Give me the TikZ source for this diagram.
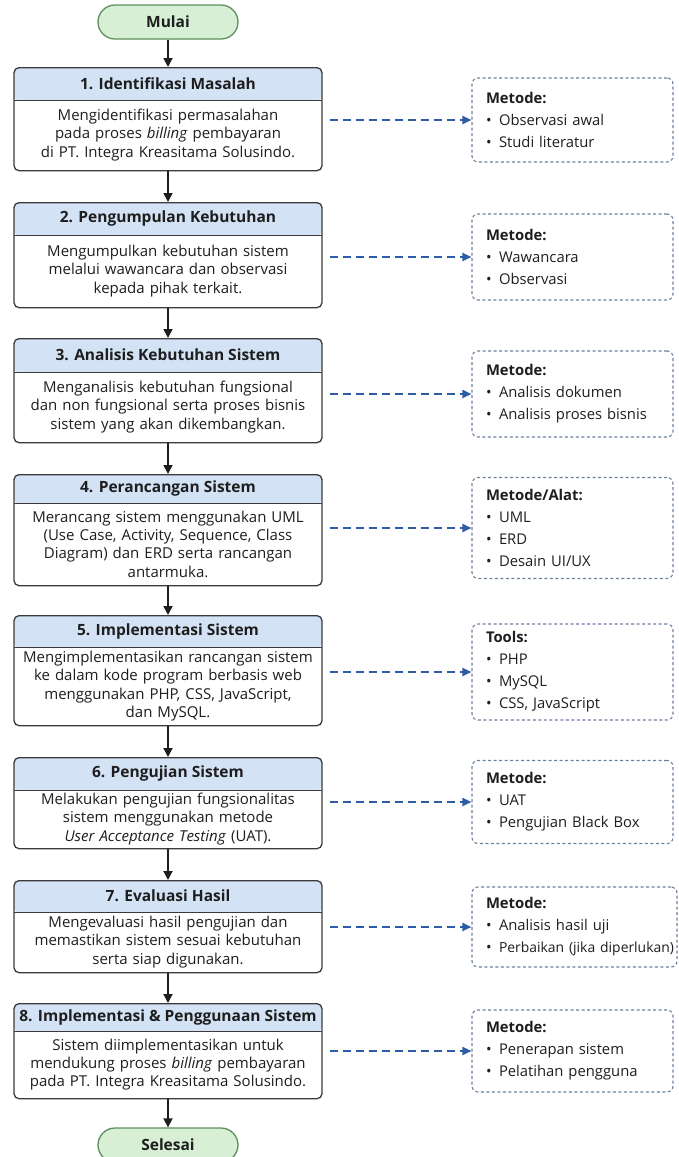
\documentclass[tikz,border=0pt]{standalone}
\usepackage{fontspec}
\setmainfont{Open Sans}
\usetikzlibrary{arrows.meta,calc,positioning}

\definecolor{headblue}{HTML}{D3E3F5}
\definecolor{boxline}{HTML}{3A3A3A}
\definecolor{termgreen}{HTML}{D6EFD5}
\definecolor{termline}{HTML}{5E8F5E}
\definecolor{linkblue}{HTML}{2C5DA6}
\definecolor{sideline}{HTML}{6C80A0}
\definecolor{textdark}{HTML}{1E1E1E}

\newcommand{\methoditem}{\makebox[13pt][l]{\textbullet}}

\tikzset{
  stepbox/.style 2 args={draw=boxline, line width=1.3pt, rounded corners=5pt, fill=white,
    minimum width=308pt, minimum height=#1, inner sep=0pt, anchor=north,
    path picture={
      \fill[headblue] (path picture bounding box.north west) rectangle
        ($(path picture bounding box.north east)+(0pt,-#2)$);
      \draw[boxline, line width=0.6pt] ($(path picture bounding box.north west)+(0pt,-#2)$) --
        ($(path picture bounding box.north east)+(0pt,-#2)$);
    }},
  headtext/.style={inner sep=0pt, text=textdark, font=\fontsize{15.5pt}{19pt}\selectfont\bfseries},
  bodytext/.style={inner sep=0pt, text=textdark, text width=300pt, align=center,
    font=\fontsize{15pt}{18.3pt}\selectfont},
  terminal/.style={draw=termline, line width=1.3pt, fill=termgreen, rounded corners=17pt,
    minimum width=140pt, minimum height=34pt, inner sep=0pt, text=textdark,
    font=\fontsize{15.5pt}{19pt}\selectfont\bfseries},
  sidebox/.style={draw=sideline, line width=1.1pt, dash pattern=on 3pt off 2.5pt,
    rounded corners=6pt, fill=white, minimum width=201pt, minimum height=#1,
    inner xsep=14pt, inner ysep=0pt, text width=173pt, align=left, text=textdark,
    font=\fontsize{14.8pt}{22pt}\selectfont},
  flowarrow/.style={draw=textdark, line width=1.8pt, -{Triangle[length=9pt,width=9pt]}},
  linkarrow/.style={draw=linkblue, line width=1.8pt, dash pattern=on 8pt off 5pt,
    -{Triangle[length=9pt,width=8pt]}, shorten <=7pt}
}

\begin{document}
\begin{tikzpicture}[x=1pt,y=-1pt]
  \useasboundingbox (0,0) rectangle (678,1157);
  %% Start
  \node[terminal] (start) at (168,22) {Mulai};
  %% Steps
  \node[stepbox={103pt}{33pt}] (b1) at (168,67) {};
  \node[headtext] (h1) at (168,83.5) {1. Identifikasi Masalah};
  \node[bodytext] (t1) at (168,135) {Mengidentifikasi permasalahan\\ pada proses \textit{billing} pembayaran\\ di PT. Integra Kreasitama Solusindo.};

  \node[stepbox={105pt}{33pt}] (b2) at (168,202) {};
  \node[headtext] (h2) at (168,218.5) {2. Pengumpulan Kebutuhan};
  \node[bodytext] (t2) at (168,271) {Mengumpulkan kebutuhan sistem\\ melalui wawancara dan observasi\\ kepada pihak terkait.};

  \node[stepbox={104pt}{34pt}] (b3) at (168,338) {};
  \node[headtext] (h3) at (168,355) {3. Analisis Kebutuhan Sistem};
  \node[bodytext] (t3) at (168,407) {Menganalisis kebutuhan fungsional\\ dan non fungsional serta proses bisnis\\ sistem yang akan dikembangkan.};

  \node[stepbox={111pt}{29pt}] (b4) at (168,474) {};
  \node[headtext] (h4) at (168,488.5) {4. Perancangan Sistem};
  \node[bodytext] (t4) at (168,544) {Merancang sistem menggunakan UML\\ (Use Case, Activity, Sequence, Class\\ Diagram) dan ERD serta rancangan\\ antarmuka.};

  \node[stepbox={110pt}{32pt}] (b5) at (168,615) {};
  \node[headtext] (h5) at (168,631) {5. Implementasi Sistem};
  \node[bodytext] (t5) at (168,686) {Mengimplementasikan rancangan sistem\\ ke dalam kode program berbasis web\\ menggunakan PHP, CSS, JavaScript,\\ dan MySQL.};

  \node[stepbox={91pt}{33pt}] (b6) at (168,757) {};
  \node[headtext] (h6) at (168,773.5) {6. Pengujian Sistem};
  \node[bodytext] (t6) at (168,819) {Melakukan pengujian fungsionalitas\\ sistem menggunakan metode\\ \textit{User Acceptance Testing} (UAT).};

  \node[stepbox={92pt}{32pt}] (b7) at (168,880) {};
  \node[headtext] (h7) at (168,896) {7. Evaluasi Hasil};
  \node[bodytext] (t7) at (168,942) {Mengevaluasi hasil pengujian dan\\ memastikan sistem sesuai kebutuhan\\ serta siap digunakan.};

  \node[stepbox={95pt}{28pt}] (b8) at (168,1003) {};
  \node[headtext] (h8) at (168,1017) {8. Implementasi \& Penggunaan Sistem};
  \node[bodytext] (t8) at (168,1064.5) {Sistem diimplementasikan untuk\\ mendukung proses \textit{billing} pembayaran\\ pada PT. Integra Kreasitama Solusindo.};
  %% End
  \node[terminal] (stop) at (168,1145) {Selesai};

  %% Side notes
  \node[sidebox=84pt] (s1) at (572.5,120) {\textbf{Metode:}\\ \methoditem Observasi awal\\ \methoditem Studi literatur};
  \node[sidebox=86pt] (s2) at (572.5,257) {\textbf{Metode:}\\ \methoditem Wawancara\\ \methoditem Observasi};
  \node[sidebox=86pt] (s3) at (572.5,394) {\textbf{Metode:}\\ \methoditem Analisis dokumen\\ \methoditem Analisis proses bisnis};
  \node[sidebox=101pt] (s4) at (572.5,528) {\textbf{Metode/Alat:}\\ \methoditem UML\\ \methoditem ERD\\ \methoditem Desain UI/UX};
  \node[sidebox=96pt] (s5) at (572.5,672) {\textbf{Tools:}\\ \methoditem PHP\\ \methoditem MySQL\\ \methoditem CSS, JavaScript};
  \node[sidebox=83pt] (s6) at (572.5,802) {\textbf{Metode:}\\ \methoditem UAT\\ \methoditem Pengujian Black Box};
  \node[sidebox=80pt, minimum width=205pt, text width=177pt] (s7) at (574.5,927) {\textbf{Metode:}\\ \methoditem Analisis hasil uji\\ \methoditem\mbox{\fontsize{13.9pt}{22pt}\selectfont Perbaikan (jika diperlukan)}};
  \node[sidebox=82pt] (s8) at (572.5,1051) {\textbf{Metode:}\\ \methoditem Penerapan sistem\\ \methoditem Pelatihan pengguna};

  %% Flow arrows
  \draw[flowarrow] (start) -- (b1);
  \draw[flowarrow] (b1) -- (b2);
  \draw[flowarrow] (b2) -- (b3);
  \draw[flowarrow] (b3) -- (b4);
  \draw[flowarrow] (b4) -- (b5);
  \draw[flowarrow] (b5) -- (b6);
  \draw[flowarrow] (b6) -- (b7);
  \draw[flowarrow] (b7) -- (b8);
  \draw[flowarrow] (b8) -- (stop);
  %% Dashed links to side notes
  \draw[linkarrow] (b1.east |- s1.west) -- (s1.west);
  \draw[linkarrow] (b2.east |- s2.west) -- (s2.west);
  \draw[linkarrow] (b3.east |- s3.west) -- (s3.west);
  \draw[linkarrow] (b4.east |- s4.west) -- (s4.west);
  \draw[linkarrow] (b5.east |- s5.west) -- (s5.west);
  \draw[linkarrow] (b6.east |- s6.west) -- (s6.west);
  \draw[linkarrow] (b7.east |- s7.west) -- (s7.west);
  \draw[linkarrow] (b8.east |- s8.west) -- (s8.west);
\end{tikzpicture}
\end{document}
